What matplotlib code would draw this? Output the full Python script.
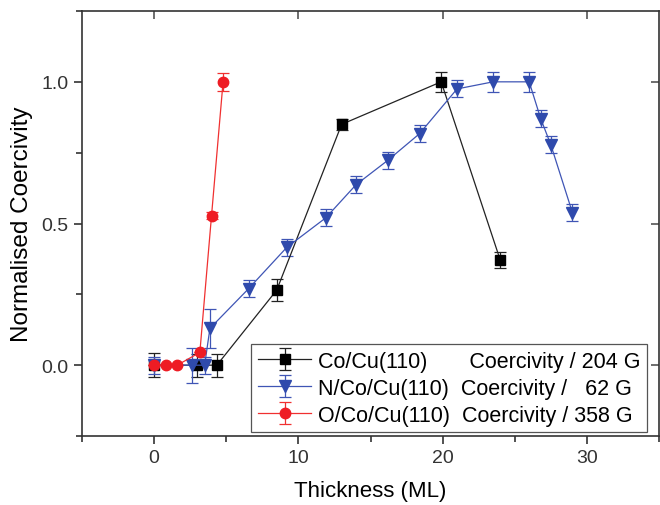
import matplotlib.pyplot as plt
from matplotlib.ticker import MultipleLocator

plt.rcParams['font.family'] = ['Liberation Sans', 'DejaVu Sans']

# Co/Cu(110)
x_co = [0, 3.0, 4.35, 8.5, 13.0, 19.9, 24.0]
y_co = [0.0, 0.0, 0.0, 0.265, 0.85, 1.0, 0.37]
e_co = [0.042, 0.04, 0.04, 0.04, 0.02, 0.035, 0.028]

# N/Co/Cu(110)
x_n = [0, 2.6, 3.5, 3.87, 6.55, 9.2, 11.9, 14.0, 16.2, 18.4, 21.0, 23.5, 26.0, 26.8, 27.5, 29.0]
y_n = [0.0, 0.0, 0.0, 0.13, 0.27, 0.416, 0.52, 0.637, 0.723, 0.817, 0.975, 1.0, 1.0, 0.87, 0.778, 0.538]
e_n = [0.03, 0.062, 0.03, 0.068, 0.03, 0.03, 0.03, 0.03, 0.03, 0.03, 0.03, 0.035, 0.035, 0.03, 0.03, 0.03]

# O/Co/Cu(110)
x_o = [0, 0.8, 1.6, 3.17, 3.98, 4.78]
y_o = [0.0, 0.0, 0.0, 0.045, 0.528, 1.0]
e_o = [0.0, 0.0, 0.0, 0.0, 0.012, 0.032]

fig = plt.figure(figsize=(6.6, 5.06), dpi=100)
ax = fig.add_axes([82/660, 1 - 437/506, 577/660, 425/506])

ax.errorbar(x_co, y_co, yerr=e_co, color='#222222', marker='s', markersize=7,
            markerfacecolor='black', markeredgecolor='black', linewidth=0.9,
            elinewidth=0.9, capsize=4, capthick=0.9,
            label='Co/Cu(110)       Coercivity / 204 G')
ax.errorbar(x_n, y_n, yerr=e_n, color='#3f55b5', marker='v', markersize=9,
            markerfacecolor='#2f4aac', markeredgecolor='#2f4aac', linewidth=0.9,
            elinewidth=0.9, capsize=4, capthick=0.9,
            label='N/Co/Cu(110)  Coercivity /   62 G')
ax.errorbar(x_o, y_o, yerr=e_o, color='#f03030', marker='o', markersize=7.5,
            markerfacecolor='#ee1c24', markeredgecolor='#ee1c24', linewidth=0.9,
            elinewidth=0.9, capsize=4, capthick=0.9,
            label='O/Co/Cu(110)  Coercivity / 358 G')

ax.set_xlim(-5, 35)
ax.set_ylim(-0.25, 1.25)
ax.xaxis.set_major_locator(MultipleLocator(10))
ax.xaxis.set_minor_locator(MultipleLocator(5))
ax.yaxis.set_major_locator(MultipleLocator(0.5))
ax.yaxis.set_minor_locator(MultipleLocator(0.25))
ax.tick_params(which='both', direction='out', labelsize=14, colors='#333333', width=1.2)
ax.tick_params(which='major', length=6)
ax.tick_params(which='minor', length=4)

# ticks pointing in on the top and right
top = ax.secondary_xaxis('top')
top.xaxis.set_major_locator(MultipleLocator(10))
top.tick_params(direction='in', length=6, width=1.2, labeltop=False, colors='#555555')
right = ax.secondary_yaxis('right')
right.yaxis.set_major_locator(MultipleLocator(0.5))
right.tick_params(direction='in', length=6, width=1.2, labelright=False, colors='#555555')

for s in ax.spines.values():
    s.set_linewidth(1.2)
    s.set_color('#333333')
top.spines['top'].set_visible(False)
right.spines['right'].set_visible(False)

ax.set_xlabel('Thickness (ML)', fontsize=16, labelpad=10)
ax.set_ylabel('Normalised Coercivity', fontsize=17.5, labelpad=6)

leg = ax.legend(loc='lower right', bbox_to_anchor=(0.979, 0.009), fontsize=15.5,
                frameon=True, fancybox=False, edgecolor='#555555', framealpha=1,
                handlelength=2.5, labelspacing=0.28, borderpad=0.3, handletextpad=0.3,
                borderaxespad=0)
leg.get_frame().set_linewidth(0.9)

plt.savefig('out.png', dpi=100)
